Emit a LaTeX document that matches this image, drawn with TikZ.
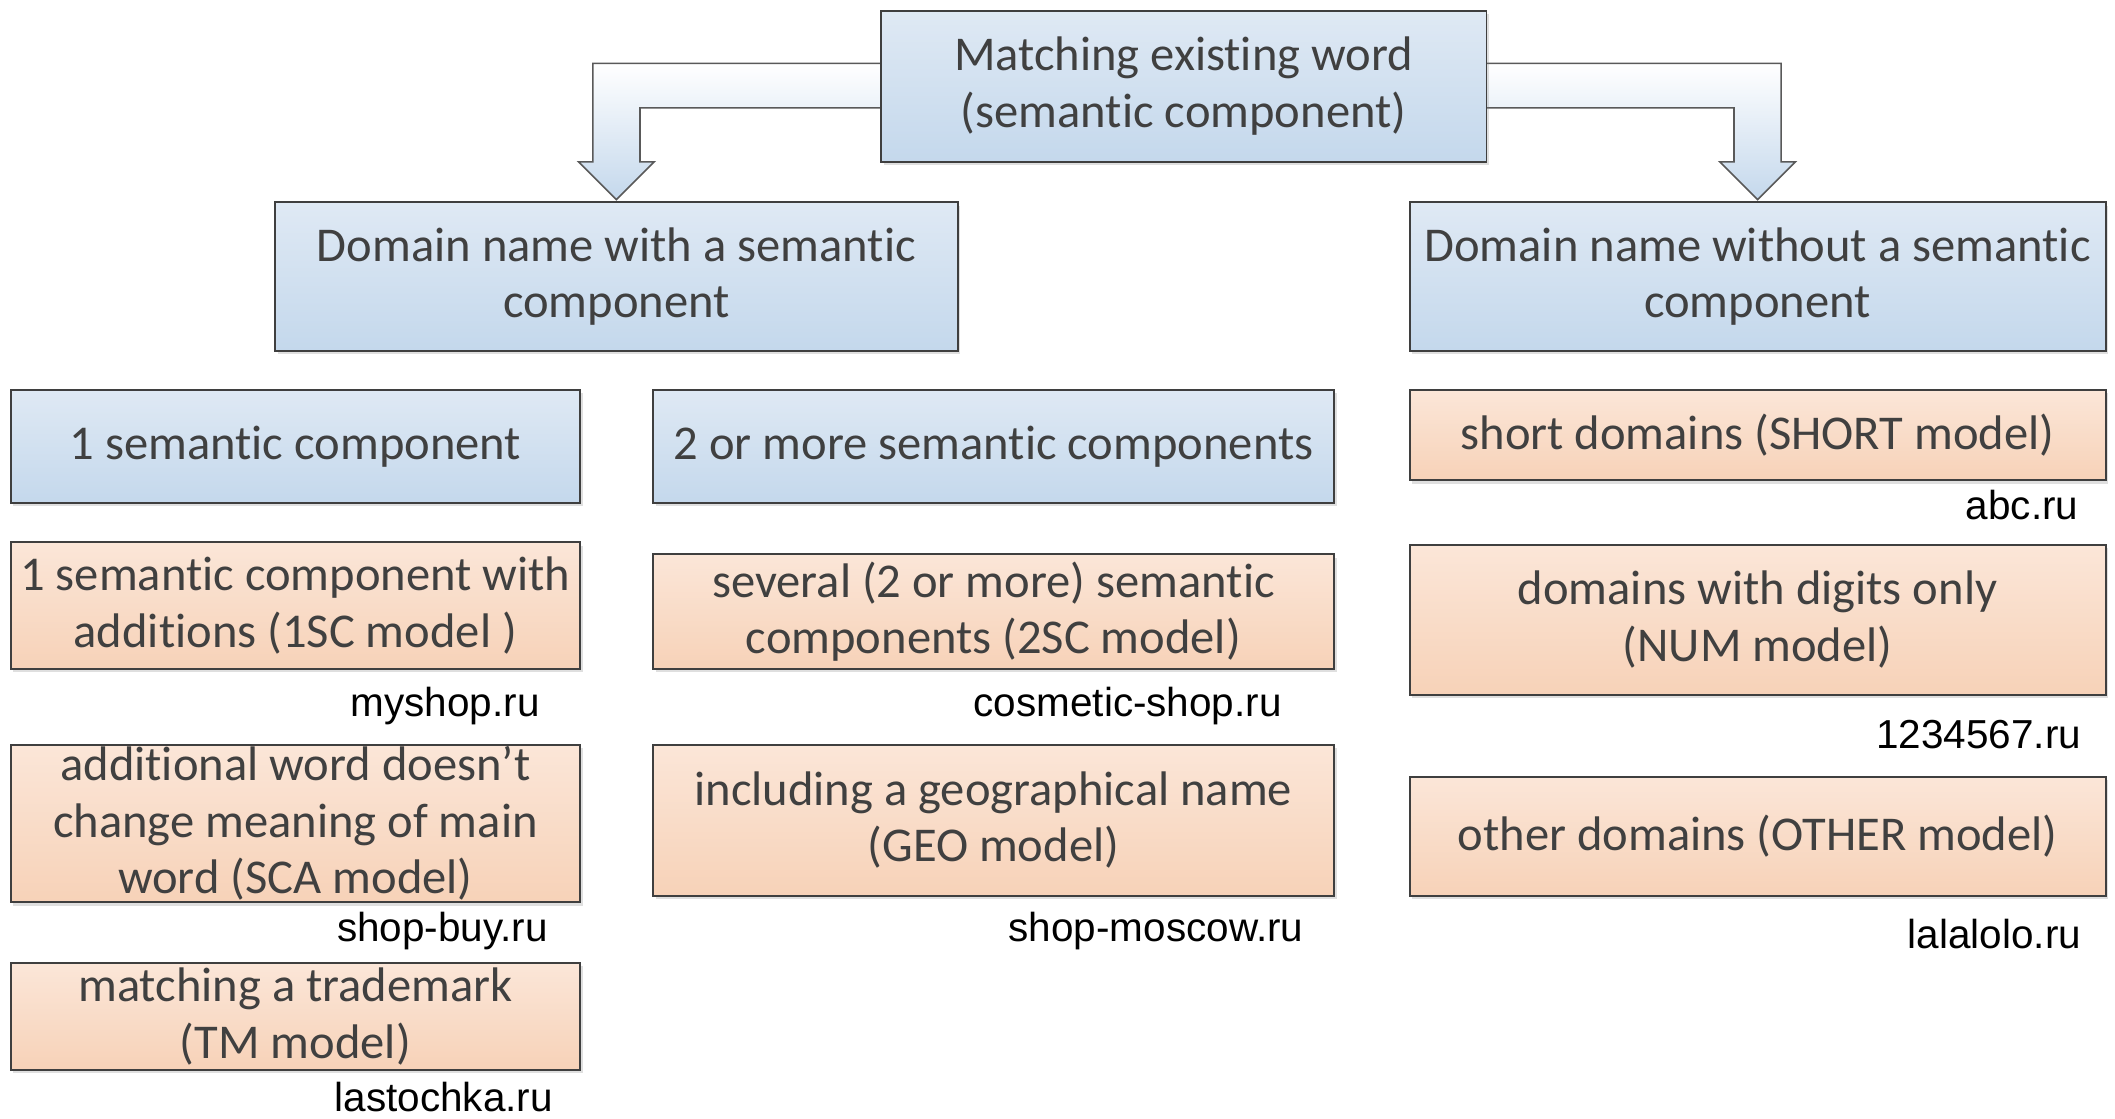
\documentclass[tikz,border=0pt]{standalone}
\usepackage{fontspec}
\setmainfont[Ligatures=NoCommon]{Carlito}
\newfontfamily\labfont{Liberation Sans}
\usetikzlibrary{calc,shadows,backgrounds}
\definecolor{txt}{HTML}{404040}
\definecolor{boxline}{HTML}{3F3F3F}
\definecolor{bA}{HTML}{DFE9F4}
\definecolor{bB}{HTML}{C4D8EC}
\definecolor{oA}{HTML}{FBE6D8}
\definecolor{oB}{HTML}{F7D2B8}
\definecolor{arline}{HTML}{595959}
\tikzset{
  box/.style={draw=boxline, line width=1.4pt, inner sep=0pt, outer sep=0pt,
    align=center, text=txt, font=\fontsize{36}{42}\selectfont,
    drop shadow={shadow xshift=2pt, shadow yshift=-2.5pt, opacity=0.25}},
  bluebox/.style={box, top color=bA, bottom color=bB},
  orangebox/.style={box, top color=oA, bottom color=oB},
  wh/.style 2 args={minimum width=#1pt, minimum height=#2pt},
  lab/.style={font=\labfont\fontsize{30}{36}\selectfont, text=black, inner sep=0pt},
  blockarrow/.style={draw=arline, line width=1.2pt, top color=white, bottom color=bB, line join=miter}
}
\begin{document}
\begin{tikzpicture}[x=1pt,y=-1pt]
\useasboundingbox (0,0) rectangle (1568,829);

\node[bluebox, wh={449}{112}] (top) at (877.5,64) {Matching existing word\\(semantic component)};
\node[bluebox, wh={506}{110}] (dw) at (457,205) {Domain name with a semantic\\component};
\node[bluebox, wh={516}{110}] (dwo) at (1303,205) {Domain name without a semantic\\component};

\node[bluebox, wh={422}{84}] (sc1) at (219,331) {1 semantic component};
\node[bluebox, wh={505}{84}] (sc2) at (736.5,331) {2 or more semantic components};

\node[orangebox, wh={422}{94}] (m1sc) at (219,449) {1 semantic component with\\additions (1SC model )};
\node[orangebox, wh={422}{117}] (msca) at (219,610.5) {additional word doesn’t\\change meaning of main\\word (SCA model)};
\node[orangebox, wh={422}{79}] (mtm) at (219,753.5) {matching a trademark\\(TM model)};

\node[orangebox, wh={505}{85}] (m2sc) at (736.5,453.5) {several (2 or more) semantic\\components (2SC model)};
\node[orangebox, wh={505}{112}] (mgeo) at (736.5,608) {including a geographical name\\(GEO model)};

\node[orangebox, wh={516}{67}] (mshort) at (1303,322.5) {short domains (SHORT model)};
\node[orangebox, wh={516}{111}] (mnum) at (1303,459.5) {domains with digits only\\(NUM model)};
\node[orangebox, wh={516}{88}] (mother) at (1303,620) {other domains (OTHER model)};

\node[lab, anchor=base] (l1) at (330,531) {myshop.ru};
\node[lab, anchor=base] (l2) at (328,698) {shop-buy.ru};
\node[lab, anchor=base] (l3) at (329,824) {lastochka.ru};
\node[lab, anchor=base] (l4) at (836,531) {cosmetic-shop.ru};
\node[lab, anchor=base] (l5) at (857,698) {shop-moscow.ru};
\node[lab, anchor=base east] (l6) at (1541,385) {abc.ru};
\node[lab, anchor=base east] (l7) at (1543,555) {1234567.ru};
\node[lab, anchor=base east] (l8) at (1543,703) {lalalolo.ru};

\begin{scope}[on background layer]
\path[blockarrow]
  ($(top.west)+(0,-17)$) -- ($(dw.north|-top.west)+(-17.5,-17)$)
  -- ($(dw.north)+(-17.5,-30)$) -- ($(dw.north)+(-28,-30)$)
  -- ($(dw.north)+(0,-2)$) -- ($(dw.north)+(28,-30)$) -- ($(dw.north)+(17.5,-30)$)
  -- ($(dw.north|-top.west)+(17.5,16)$) -- ($(top.west)+(0,16)$);
\path[blockarrow]
  ($(top.east)+(0,-17)$) -- ($(dwo.north|-top.east)+(17.5,-17)$)
  -- ($(dwo.north)+(17.5,-30)$) -- ($(dwo.north)+(28,-30)$)
  -- ($(dwo.north)+(0,-2)$) -- ($(dwo.north)+(-28,-30)$) -- ($(dwo.north)+(-17.5,-30)$)
  -- ($(dwo.north|-top.east)+(-17.5,16)$) -- ($(top.east)+(0,16)$);
\end{scope}
\end{tikzpicture}
\end{document}
